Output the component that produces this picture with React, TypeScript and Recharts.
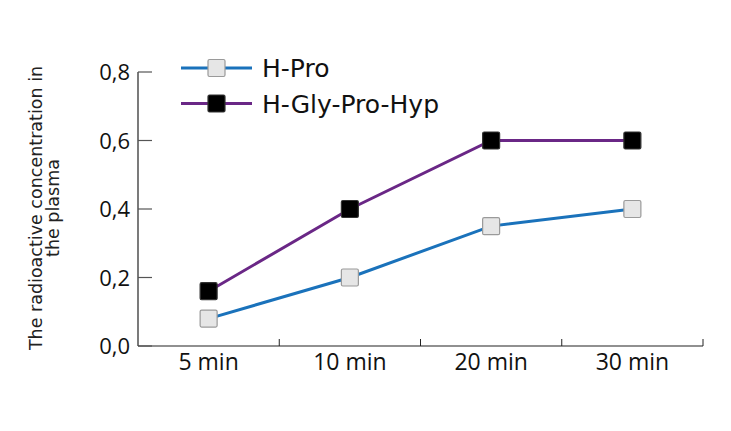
import React from 'react'
import { LineChart, Line, XAxis, YAxis, Legend, Customized } from 'recharts'

const times = ['5 min', '10 min', '20 min', '30 min']
const hPro = [0.08, 0.2, 0.35, 0.4]
const hGlyProHyp = [0.16, 0.4, 0.6, 0.6]
const yTicks = [0, 0.2, 0.4, 0.6, 0.8]

const series = [
  { key: 'hPro', name: 'H-Pro', color: '#1a72bb', fill: '#e6e6e6', border: '#9a9a9a' },
  { key: 'hGlyProHyp', name: 'H-Gly-Pro-Hyp', color: '#6a2786', fill: '#000000', border: '#333333' },
]

const data = times.map((time, i) => ({ time, hPro: hPro[i], hGlyProHyp: hGlyProHyp[i] }))

const W = 731
const H = 431
const X_AXIS_H = 30
const M = { top: 72, right: 28, bottom: 85 - X_AXIS_H, left: 0 }
const AXIS_W = 138
const HALF_BAND = (W - M.right - AXIS_W) / times.length / 2
const FONT = '"Open Sans", sans-serif'
const TITLE_FONT = '"DejaVu Sans", sans-serif'
const MARK = 17

function squareDot(fill: string, border: string) {
  return (props: any) => {
    const { cx, cy, index } = props
    if (cx == null || cy == null) return <g key={index} />
    return (
      <rect
        key={index}
        x={cx - MARK / 2}
        y={cy - MARK / 2}
        width={MARK}
        height={MARK}
        fill={fill}
        stroke={border}
        strokeWidth={1.2}
        rx={1.5}
      />
    )
  }
}

function YTick(props: any) {
  const { x, y, payload } = props
  return (
    <g>
      <line x1={x} x2={x + 14} y1={y} y2={y} stroke="#555" strokeWidth={1.2} />
      <text x={x - 8} y={y} dy={8} textAnchor="end" fontSize={22} fontFamily={FONT} fill="#111">
        {Number(payload.value).toFixed(1).replace('.', ',')}
      </text>
    </g>
  )
}

function XTick(props: any) {
  const { x, y, payload } = props
  return (
    <g>
      <line x1={x + HALF_BAND} x2={x + HALF_BAND} y1={y} y2={y - 7} stroke="#222" strokeWidth={1} />
      <text x={x} y={y} dy={24} textAnchor="middle" fontSize={23} fontFamily={FONT} fill="#111">
        {payload.value}
      </text>
    </g>
  )
}

function YTitle() {
  return (
    <text
      transform="translate(42, 208) rotate(-90)"
      textAnchor="middle"
      fontSize={17.5}
      fontFamily={TITLE_FONT}
      fill="#222"
    >
      <tspan x={0} dy={0}>The radioactive concentration in</tspan>
      <tspan x={0} dy={17}>the plasma</tspan>
    </text>
  )
}

function LegendBox() {
  return (
    <svg width={300} height={80}>
      {series.map((s, i) => {
        const cy = 16 + i * 35.5
        return (
          <g key={s.key}>
            <line x1={3} x2={74} y1={cy} y2={cy} stroke={s.color} strokeWidth={3} />
            <rect
              x={38.5 - MARK / 2}
              y={cy - MARK / 2}
              width={MARK}
              height={MARK}
              fill={s.fill}
              stroke={s.border}
              strokeWidth={1.2}
              rx={1.5}
            />
            <text x={84} y={cy} dy={9} fontSize={25} fontFamily={TITLE_FONT} fill="#111">
              {s.name}
            </text>
          </g>
        )
      })}
    </svg>
  )
}

export default function App() {
  return (
    <div style={{ position: 'absolute', left: 0, top: 0, width: W, height: H, background: '#fff' }}>
      <LineChart width={W} height={H} data={data} margin={M}>
        <XAxis
          dataKey="time"
          height={X_AXIS_H}
          padding={{ left: HALF_BAND, right: HALF_BAND }}
          tickLine={false}
          tickSize={0}
          tickMargin={0}
          tick={<XTick />}
          axisLine={{ stroke: '#222', strokeWidth: 1.2 }}
          interval={0}
        />
        <YAxis
          width={AXIS_W}
          domain={[0, 0.8]}
          ticks={yTicks}
          tickLine={false}
          tickSize={0}
          tickMargin={0}
          tick={<YTick />}
          axisLine={{ stroke: '#222', strokeWidth: 1.2 }}
        />
        <Legend
          layout="vertical"
          align="center"
          verticalAlign="middle"
          content={() => <LegendBox />}
          wrapperStyle={{ position: 'absolute', left: 178, top: 52, width: 300, height: 80 }}
        />
        {series.map((s) => (
          <Line
            key={s.key}
            dataKey={s.key}
            name={s.name}
            stroke={s.color}
            strokeWidth={3}
            dot={squareDot(s.fill, s.border)}
            isAnimationActive={false}
          />
        ))}
        <Customized component={YTitle} />
      </LineChart>
    </div>
  )
}
